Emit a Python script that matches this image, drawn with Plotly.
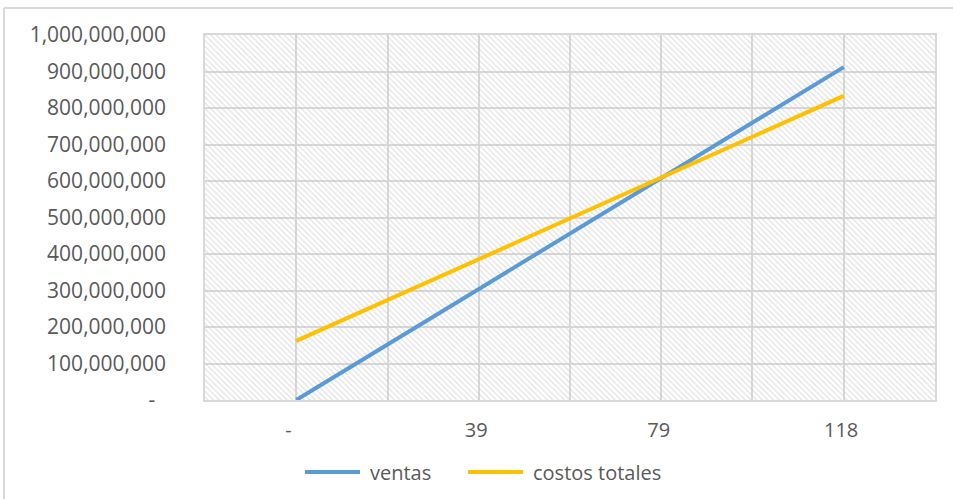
import plotly.graph_objects as go

# ---- data ----
unidades = [0, 19.67, 39.33, 59, 78.67, 98.33, 118]
ventas = [0, 152e6, 304e6, 456e6, 608e6, 760e6, 912e6]
costos_totales = [162e6, 274e6, 386e6, 497e6, 609e6, 721e6, 833e6]
x_tick_labels = ["-", "39", "79", "118"]
y_tick_values = [0, 1e8, 2e8, 3e8, 4e8, 5e8, 6e8, 7e8, 8e8, 9e8, 1e9]
series_names = ["ventas", "costos totales"]
series_colors = ["#5B9BD5", "#FFC000"]

NB = "\u00a0"
y_tick_text = [("-" + NB * 2) if v == 0 else f"{int(v):,}" for v in y_tick_values]
x_tick_text = [("-" + NB * 3) if t == "-" else (t + NB) for t in x_tick_labels]

step = unidades[1] - unidades[0]
x_min = unidades[0] - step
x_max = unidades[-1] + step
y_min, y_max = y_tick_values[0], y_tick_values[-1]

FONT = "Open Sans"
TXT = "#595959"
GRID = "#d9d9d9"

fig = go.Figure()

# hatched plot-area background
fig.add_trace(go.Scatter(
    x=[x_min, x_max, x_max, x_min, x_min],
    y=[y_min, y_min, y_max, y_max, y_min],
    mode="none", fill="toself", fillcolor="rgba(0,0,0,0)",
    fillpattern=dict(shape="\\", fgcolor="#c4c4c4", bgcolor="rgba(0,0,0,0)",
                     size=4, solidity=0.3),
    hoverinfo="skip", showlegend=False,
))

for name, vals, col in zip(series_names, [ventas, costos_totales], series_colors):
    fig.add_trace(go.Scatter(
        x=unidades, y=vals, name=name, mode="lines",
        line=dict(color=col, width=4), showlegend=False,
    ))

# plot geometry (pixels)
L, R, T, B = 205, 18, 35, 99
W, H = 953 - L - R, 499 - T - B

def px_x(p):
    return (p - L) / W

def px_y(p):
    return (499 - B - p) / H

shapes = [
    dict(type="line", xref="paper", yref="paper",
         x0=px_x(4), x1=px_x(953), y0=px_y(8), y1=px_y(8),
         line=dict(color="#d9d9d9", width=2)),
    dict(type="line", xref="paper", yref="paper",
         x0=px_x(4), x1=px_x(4), y0=px_y(8), y1=px_y(499),
         line=dict(color="#d9d9d9", width=2)),
]
annotations = []
# manual legend (Excel style, long line samples)
legend_items = [(305, 360, 368), (468, 523, 531)]
for (lx0, lx1, tx), name, col in zip(legend_items, series_names, series_colors):
    shapes.append(dict(type="line", xref="paper", yref="paper",
                       x0=px_x(lx0), x1=px_x(lx1), y0=px_y(472), y1=px_y(472),
                       line=dict(color=col, width=4)))
    annotations.append(dict(xref="paper", yref="paper", x=px_x(tx), y=px_y(472),
                            xanchor="left", yanchor="middle", showarrow=False,
                            text=name, font=dict(family=FONT, size=20, color=TXT)))

fig.update_layout(
    width=953, height=499,
    margin=dict(l=L, r=R, t=T, b=B),
    paper_bgcolor="white", plot_bgcolor="white",
    font=dict(family=FONT, size=20, color=TXT),
    showlegend=False,
    xaxis=dict(
        range=[x_min, x_max],
        tickmode="array", tickvals=unidades[0::2], ticktext=x_tick_text,
        showgrid=True, gridcolor=GRID, gridwidth=1.5,
        minor=dict(tickmode="array", tickvals=unidades[1::2],
                   showgrid=True, gridcolor=GRID, gridwidth=1.5, ticks=""),
        showline=True, mirror=True, linecolor=GRID, linewidth=1.5,
        ticks="", zeroline=False, ticklabelstandoff=11,
        tickfont=dict(family=FONT, size=20, color=TXT),
    ),
    yaxis=dict(
        range=[y_min, y_max],
        tickmode="array", tickvals=y_tick_values, ticktext=y_tick_text,
        showgrid=True, gridcolor=GRID, gridwidth=1.5,
        showline=True, mirror=True, linecolor=GRID, linewidth=1.5,
        ticks="", zeroline=False, ticklabelstandoff=33,
        tickfont=dict(family=FONT, size=21, color=TXT),
    ),
    shapes=shapes,
    annotations=annotations,
)

fig.write_html("out.html")
